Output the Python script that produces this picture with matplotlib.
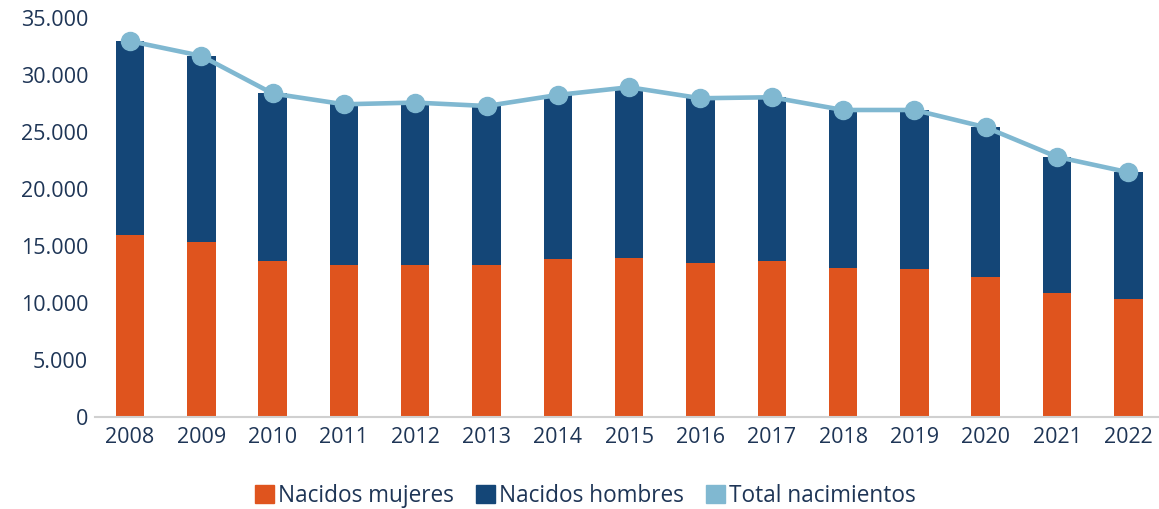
import numpy as np
import matplotlib
matplotlib.use("Agg")
import matplotlib.pyplot as plt
import matplotlib.patches as mpatches
from matplotlib.ticker import FuncFormatter

plt.rcParams["font.family"] = ["Open Sans", "DejaVu Sans"]

# ── data ─────────────────────────────────────────────────────────────────────
years = ["2008", "2009", "2010", "2011", "2012", "2013", "2014", "2015",
         "2016", "2017", "2018", "2019", "2020", "2021", "2022"]
total = [33000, 31700, 28400, 27450, 27600, 27300, 28270, 28950,
         27980, 28070, 26950, 26950, 25430, 22830, 21480]
mujeres = [15950, 15360, 13720, 13320, 13320, 13320, 13870, 13960,
           13520, 13720, 13080, 12990, 12290, 10890, 10360]
hombres = [t - m for t, m in zip(total, mujeres)]

# ── colours ──────────────────────────────────────────────────────────────────
C_MUJ = "#DF541E"
C_HOM = "#144677"
C_TOT = "#80B8D1"
C_TXT = "#1E3556"

fig = plt.figure(figsize=(11.59, 5.09), dpi=100)
ax = fig.add_axes([0.082, 0.181, 0.918, 0.783])

x = np.arange(len(years))
ax.bar(x, mujeres, width=0.40, color=C_MUJ, zorder=2)
ax.bar(x, hombres, width=0.40, bottom=mujeres, color=C_HOM, zorder=2)
ax.plot(x, total, color=C_TOT, linewidth=3.3, marker="o", markersize=13,
        zorder=3)

ax.set_xlim(-0.49, 14.43)
ax.set_ylim(0, 35000)
ax.set_yticks(np.arange(0, 35001, 5000))
ax.yaxis.set_major_formatter(FuncFormatter(lambda v, p: f"{int(v):,}".replace(",", ".")))
ax.set_xticks(x)
ax.set_xticklabels(years)

for s in ["top", "right", "left"]:
    ax.spines[s].set_visible(False)
ax.spines["bottom"].set_color("#D0D0D0")
ax.spines["bottom"].set_linewidth(1.5)
ax.tick_params(axis="both", length=0, labelsize=15.5, colors=C_TXT)
ax.tick_params(axis="y", pad=5)
ax.tick_params(axis="x", pad=7.5)

handles = [mpatches.Patch(color=C_MUJ, label="Nacidos mujeres"),
           mpatches.Patch(color=C_HOM, label="Nacidos hombres"),
           mpatches.Patch(color=C_TOT, label="Total nacimientos")]
leg = fig.legend(handles=handles, loc="center", bbox_to_anchor=(0.505, 0.025),
                 ncol=3, frameon=False, fontsize=16.3, handlelength=0.85,
                 handleheight=0.85, handletextpad=0.15, columnspacing=1.0)
for t in leg.get_texts():
    t.set_color(C_TXT)

plt.savefig("out.png", dpi=100)
